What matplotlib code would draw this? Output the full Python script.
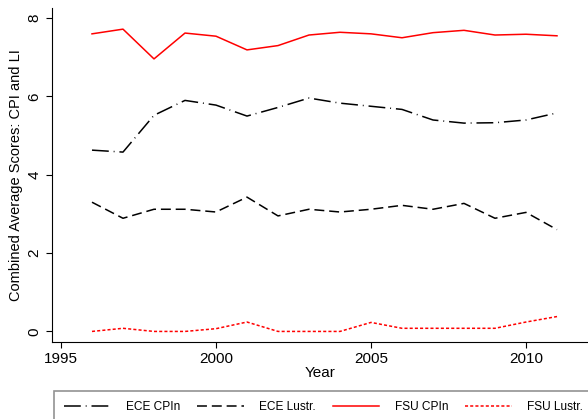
import numpy as np
import matplotlib as mpl
mpl.use('Agg')
import matplotlib.pyplot as plt

plt.rcParams['font.family'] = ['Liberation Sans', 'DejaVu Sans']

years = list(range(1996, 2012))
ece_cpi = [4.63, 4.58, 5.52, 5.90, 5.78, 5.50, 5.72, 5.96, 5.83, 5.75,
           5.67, 5.40, 5.32, 5.33, 5.40, 5.58]
ece_lustr = [3.30, 2.89, 3.12, 3.12, 3.05, 3.43, 2.95, 3.12, 3.05, 3.12,
             3.22, 3.12, 3.27, 2.89, 3.04, 2.60]
fsu_cpi = [7.60, 7.72, 6.96, 7.62, 7.54, 7.19, 7.30, 7.57, 7.64, 7.60,
           7.50, 7.63, 7.69, 7.57, 7.59, 7.55]
fsu_lustr = [0.0, 0.08, 0.0, 0.0, 0.07, 0.24, 0.0, 0.0, 0.0, 0.23,
             0.08, 0.08, 0.08, 0.08, 0.24, 0.38]

fig = plt.figure(figsize=(5.88, 4.19), dpi=100)
ax = fig.add_axes([52/588, 1-342/419, 1-52/588, (342-8)/419])

ax.plot(years, ece_cpi, color='black', lw=1.1, dashes=(11, 3.2, 0.6, 3.2), label='ECE CPIn')
ax.plot(years, ece_lustr, color='black', lw=1.1, dashes=(6.5, 3.2), label='ECE Lustr.')
ax.plot(years, fsu_cpi, color='red', lw=1.1, label='FSU CPIn')
ax.plot(years, fsu_lustr, color='red', lw=1.1, dashes=(2, 1.4), label='FSU Lustr.')

ax.set_xlim(1994.71, 2012)
ax.set_ylim(-0.27, 8.26)
ax.set_xticks([1995, 2000, 2005, 2010])
ax.set_yticks([0, 2, 4, 6, 8])
for s in ['top', 'right']:
    ax.spines[s].set_visible(False)
for s in ['left', 'bottom']:
    ax.spines[s].set_linewidth(0.8)
ax.tick_params(direction='out', length=4, width=0.8, labelsize=11)
plt.setp(ax.get_yticklabels(), rotation=90, va='center')
ax.set_xlabel('Year', fontsize=11, labelpad=0)
ax.set_ylabel('Combined Average Scores: CPI and LI', fontsize=10.5, labelpad=3)

leg = fig.legend(loc='upper left', bbox_to_anchor=(54/588, 1-391/419), ncol=4,
                 fontsize=8.6, handlelength=3.9, handletextpad=1.3,
                 columnspacing=1.4, frameon=True, fancybox=False,
                 borderpad=0.85, borderaxespad=0)
leg.get_frame().set_edgecolor('#777777')
leg.get_frame().set_linewidth(1.2)

fig.savefig('out.png', dpi=100)
